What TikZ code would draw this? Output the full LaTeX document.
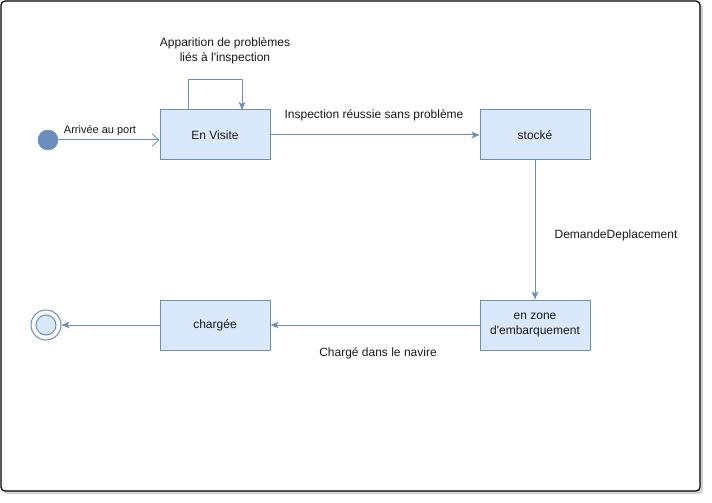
\documentclass[tikz,border=0pt]{standalone}
\usepackage{fontspec}
\setmainfont{Liberation Sans}
\usetikzlibrary{arrows.meta,shadows}
\definecolor{boxfill}{HTML}{DAE8FC}
\definecolor{boxline}{HTML}{6C8EBF}
\definecolor{txt}{HTML}{1A1A1A}
\tikzset{
  state/.style={draw=boxline, fill=boxfill, line width=0.75pt, minimum width=82.5pt, minimum height=37.5pt, inner sep=0pt, align=center, text=txt, font=\fontsize{9}{11}\selectfont},
  conn/.style={draw=boxline, line width=0.75pt, -{Stealth[length=6pt,width=5pt,inset=1.5pt]}},
  openconn/.style={draw=boxline, line width=0.75pt, -{Straight Barb[length=5pt,width=9pt,line width=0.6pt]}},
  lbl/.style={text=txt, font=\fontsize{9}{11}\selectfont, align=center, inner sep=0pt},
  slbl/.style={text=txt, font=\fontsize{8.25}{10}\selectfont, inner sep=0pt},
}
\begin{document}
\begin{tikzpicture}[x=0.75pt,y=-0.75pt]
\useasboundingbox (0,0) rectangle (712,502);
\fill[black!18, rounded corners=3pt] (3.5,3.5) rectangle (703,494);
\draw[black, line width=0.9pt, fill=white, rounded corners=3pt] (1,1) rectangle (700,491);

\node[circle, fill=boxline, draw=boxline, minimum size=15pt, inner sep=0pt] (init) at (48,140) {};
\node[state] (visite) at (215,135) {En Visite};
\node[state] (stocke) at (535,135) {stocké};
\node[state] (zone) at (535,325) {en zone\\d\textquotesingle embarquement};
\node[state] (charge) at (215,325) {chargée};
\node[circle, draw=boxline, fill=white, line width=0.75pt, minimum size=22.5pt, inner sep=0pt] (final) at (46,325) {};
\node[circle, draw=boxline, fill=boxfill, line width=0.75pt, minimum size=15pt, inner sep=0pt] (finalin) at (46,325) {};

\coordinate (la) at (188,110);
\coordinate (lb) at (188,80);
\coordinate (lc) at (242,80);
\coordinate (ld) at (242,110);

\draw[openconn] (init.east) -- (init.east -| visite.west);
\draw[conn] (la) -- (lb) -- (lc) -- (ld);
\draw[conn] (visite.east) -- (stocke.west);
\draw[conn] (stocke.south) -- (zone.north);
\draw[conn] (zone.west) -- (charge.east);
\draw[conn] (charge.west) -- (final.east);

\node[slbl] (l1) at (100,131) {Arrivée au port};
\node[lbl] (l2) at (225,51) {Apparition de problèmes\\liés à l\textquotesingle inspection};
\node[lbl] (l3) at (374,115) {Inspection réussie sans problème};
\node[lbl] (l4) at (616,235) {DemandeDeplacement};
\node[lbl] (l5) at (378,353) {Chargé dans le navire};
\end{tikzpicture}
\end{document}
